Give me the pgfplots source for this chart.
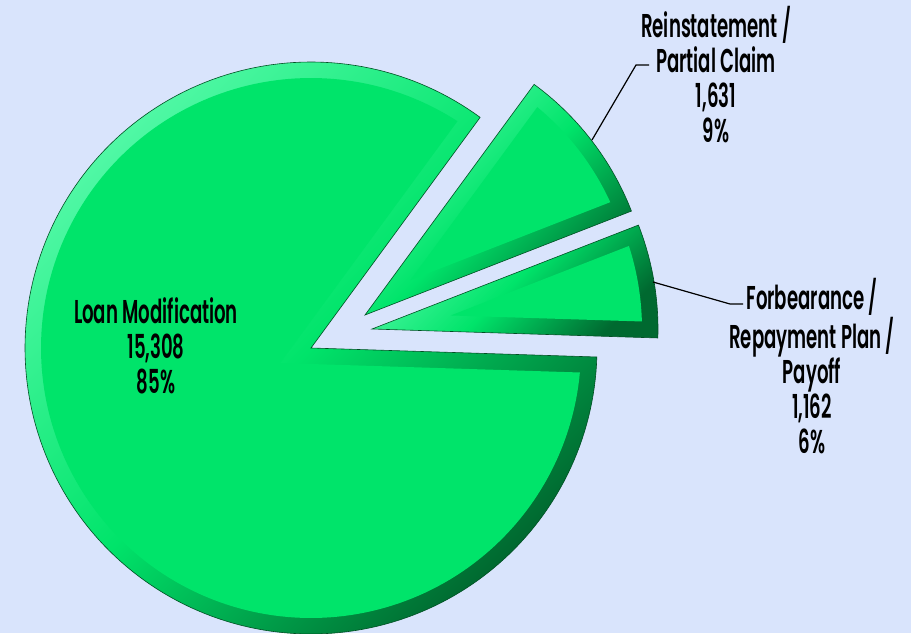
\documentclass[border=0pt]{standalone}
\usepackage{pgfplots}
\pgfplotsset{compat=1.18}
\usepackage{fontspec}
\newfontfamily\lbl{Poppins SemiBold}[FakeStretch=0.55]
\definecolor{bg}{RGB}{217,228,252}
\definecolor{base}{RGB}{0,228,106}
\definecolor{hi}{RGB}{80,248,165}
\definecolor{dk}{RGB}{0,105,48}
\definecolor{edge}{RGB}{0,80,35}
% values (loans)
\def\vLoan{15308}
\def\vRein{1631}
\def\vForb{1162}
\begin{document}
\begin{tikzpicture}
\pgfmathsetmacro\tot{\vLoan/1000+\vRein/1000+\vForb/1000}
\def\R{286}\def\W{16}
\pgfmathsetmacro\dl{asin(\W/(\R-\W))}
% Forbearance
\pgfmathsetmacro\aF{-1.8}
\pgfmathsetmacro\bF{\aF+\vForb/1000/\tot*360}
\def\PFx{372}\def\PFy{304}
\pgfmathsetmacro\QFx{\PFx+\W/sin((\bF-\aF)/2)*cos((\aF+\bF)/2)}
\pgfmathsetmacro\QFy{\PFy+\W/sin((\bF-\aF)/2)*sin((\aF+\bF)/2)}
\pgfmathsetmacro\aFi{\aF+\dl}\pgfmathsetmacro\bFi{\bF-\dl}
% Reinstatement
\pgfmathsetmacro\aR{\bF}
\pgfmathsetmacro\bR{\aR+\vRein/1000/\tot*360}
\def\PRx{365}\def\PRy{318}
\pgfmathsetmacro\QRx{\PRx+\W/sin((\bR-\aR)/2)*cos((\aR+\bR)/2)}
\pgfmathsetmacro\QRy{\PRy+\W/sin((\bR-\aR)/2)*sin((\aR+\bR)/2)}
\pgfmathsetmacro\aRi{\aR+\dl}\pgfmathsetmacro\bRi{\bR-\dl}
% Loan Modification
\pgfmathsetmacro\aL{\bR}
\pgfmathsetmacro\bL{\aL+\vLoan/1000/\tot*360}
\def\PLx{311}\def\PLy{285}
\pgfmathsetmacro\QLx{\PLx+\W/sin((\bL-\aL)/2)*cos((\aL+\bL)/2)}
\pgfmathsetmacro\QLy{\PLy+\W/sin((\bL-\aL)/2)*sin((\aL+\bL)/2)}
\pgfmathsetmacro\aLi{\aL+\dl}\pgfmathsetmacro\bLi{\bL-\dl}
\path[use as bounding box, fill=bg] (0,0) rectangle (911pt,633pt);
\begin{axis}[at={(0,0)}, anchor=south west, scale only axis,
  width=911pt, height=633pt, xmin=0, xmax=911, ymin=0, ymax=633,
  hide axis, clip=false]
% outer sectors (bevel shading)
\addplot[draw=edge, line width=0.6pt, top color=hi, bottom color=dk, middle color=base, shading angle=45,
  domain=\aL:\bL, samples=200, variable=\t] ({\PLx+\R*cos(t)},{\PLy+\R*sin(t)}) -- (axis cs:\PLx,\PLy) -- cycle;
\addplot[draw=edge, line width=0.6pt, top color=hi, bottom color=dk, middle color=base, shading angle=45,
  domain=\aR:\bR, samples=60, variable=\t] ({\PRx+\R*cos(t)},{\PRy+\R*sin(t)}) -- (axis cs:\PRx,\PRy) -- cycle;
\addplot[draw=edge, line width=0.6pt, top color=hi, bottom color=dk, middle color=base, shading angle=45,
  domain=\aF:\bF, samples=60, variable=\t] ({\PFx+\R*cos(t)},{\PFy+\R*sin(t)}) -- (axis cs:\PFx,\PFy) -- cycle;
% inner faces
\addplot[draw=none, fill=base, domain=\aLi:\bLi, samples=200, variable=\t]
  ({\PLx+(\R-\W)*cos(t)},{\PLy+(\R-\W)*sin(t)}) -- (axis cs:\QLx,\QLy) -- cycle;
\addplot[draw=none, fill=base, domain=\aRi:\bRi, samples=60, variable=\t]
  ({\PRx+(\R-\W)*cos(t)},{\PRy+(\R-\W)*sin(t)}) -- (axis cs:\QRx,\QRy) -- cycle;
\addplot[draw=none, fill=base, domain=\aFi:\bFi, samples=60, variable=\t]
  ({\PFx+(\R-\W)*cos(t)},{\PFy+(\R-\W)*sin(t)}) -- (axis cs:\QFx,\QFy) -- cycle;
% leader lines
\draw[black, line width=1.2pt] (axis cs:592,493) -- (axis cs:636,568) -- (axis cs:649,568);
\draw[black, line width=1.2pt] (axis cs:653,351) -- (axis cs:730,329) -- (axis cs:743,329);
% labels
\node[font=\lbl\fontsize{33}{35}\selectfont, align=center, inner sep=0pt] at (axis cs:156,287) {Loan Modification\\15,308\\85\%};
\node[font=\lbl\fontsize{33}{35}\selectfont, align=center, inner sep=0pt] at (axis cs:716,558) {Reinstatement /\\Partial Claim\\1,631\\9\%};
\node[font=\lbl\fontsize{33}{35}\selectfont, align=center, inner sep=0pt] at (axis cs:812,267) {Forbearance /\\Repayment Plan /\\Payoff\\1,162\\6\%};
\end{axis}
\end{tikzpicture}
\end{document}
